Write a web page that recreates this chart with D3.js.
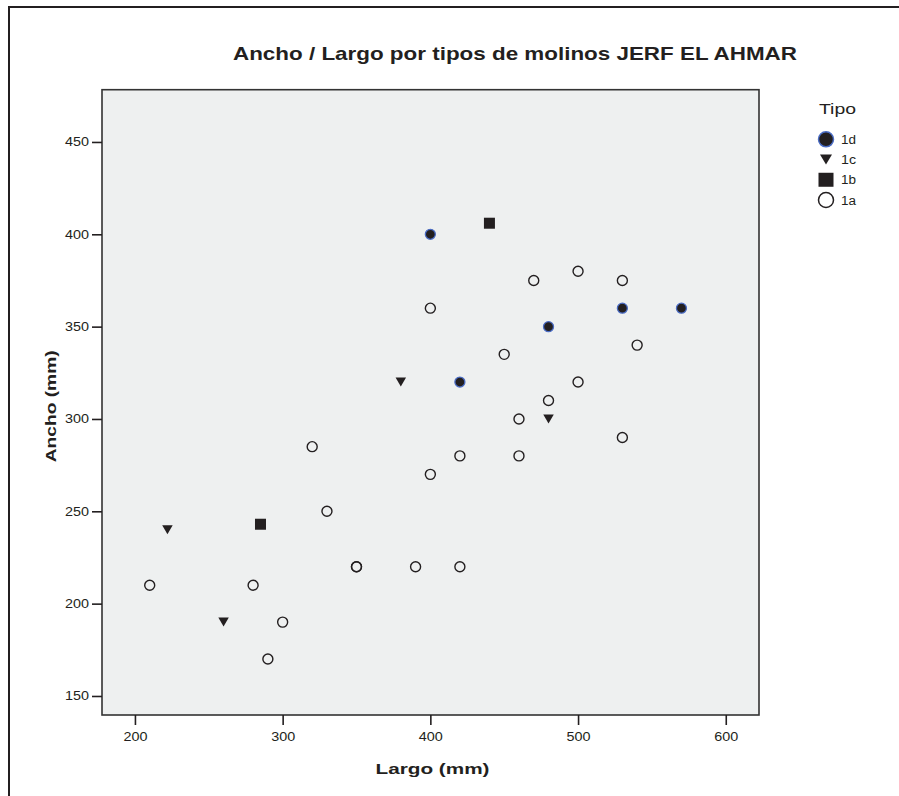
<!DOCTYPE html>
<html>
<head>
<meta charset="utf-8">
<script src="https://cdn.jsdelivr.net/npm/d3@7"></script>
<style>
  body { margin: 0; background: #fff; }
  svg { display: block; }
  text { font-family: "Liberation Sans", Arial, sans-serif; fill: #231f20; }
</style>
</head>
<body>
<svg id="chart" width="899" height="796"></svg>
<script>
// Molinos de JERF EL AHMAR: largo y ancho (mm) por tipo
const tipos = ["1d", "1c", "1b", "1a"];

const largo1a = [210, 280, 300, 290, 320, 330, 350, 350, 390, 420, 400, 420, 460, 460, 480, 500, 530, 540, 450, 400, 470, 500, 530];
const ancho1a = [210, 210, 190, 170, 285, 250, 220, 220, 220, 220, 270, 280, 280, 300, 310, 320, 290, 340, 335, 360, 375, 380, 375];

const largo1b = [440, 285];
const ancho1b = [406, 243];

const largo1c = [222, 260, 380, 480];
const ancho1c = [240, 190, 320, 300];

const largo1d = [400, 420, 480, 530, 570];
const ancho1d = [400, 320, 350, 360, 360];

const xTicks = [200, 300, 400, 500, 600];
const yTicks = [150, 200, 250, 300, 350, 400, 450];

const titulo = "Ancho / Largo por tipos de molinos JERF EL AHMAR";
const tituloX = "Largo (mm)";
const tituloY = "Ancho (mm)";
const tituloLeyenda = "Tipo";

const svg = d3.select("#chart");
const ink = "#231f20";

// Plot frame
const plot = { left: 102, top: 89.7, right: 759, bottom: 715 };

const x = d3.scaleLinear().domain([177.7, 622.5]).range([plot.left, plot.right]);
const y = d3.scaleLinear().domain([139.7, 478.3]).range([plot.bottom, plot.top]);

// Outer frame (left and top edges are visible inside the window)
svg.append("path")
  .attr("d", "M9,796 L9,7 L899,7")
  .attr("fill", "none")
  .attr("stroke", ink)
  .attr("stroke-width", 2);

// Plot background and border
svg.append("rect")
  .attr("x", plot.left).attr("y", plot.top)
  .attr("width", plot.right - plot.left).attr("height", plot.bottom - plot.top)
  .attr("fill", "#eef0f0")
  .attr("stroke", "#333")
  .attr("stroke-width", 1.6);

// Title
svg.append("text")
  .attr("x", 233).attr("y", 60)
  .attr("font-size", 18.5)
  .attr("font-weight", "bold")
  .attr("textLength", 564)
  .attr("lengthAdjust", "spacingAndGlyphs")
  .text(titulo);

// X axis
const gx = svg.append("g")
  .attr("transform", `translate(0,${plot.bottom})`)
  .call(d3.axisBottom(x).tickValues(xTicks).tickSize(10).tickPadding(7).tickFormat(d3.format("d")));
gx.select(".domain").remove();
gx.selectAll(".tick line").attr("stroke", ink).attr("stroke-width", 1.6);
gx.selectAll(".tick text")
  .attr("font-size", 12.5)
  .attr("font-family", "Liberation Sans, Arial, sans-serif")
  .attr("fill", "#333")
  .attr("textLength", 24)
  .attr("lengthAdjust", "spacingAndGlyphs");

// Y axis
const gy = svg.append("g")
  .attr("transform", `translate(${plot.left},0)`)
  .call(d3.axisLeft(y).tickValues(yTicks).tickSize(10).tickPadding(3).tickFormat(d3.format("d")));
gy.select(".domain").remove();
gy.selectAll(".tick line").attr("stroke", ink).attr("stroke-width", 1.6);
gy.selectAll(".tick text")
  .attr("font-size", 12.5)
  .attr("font-family", "Liberation Sans, Arial, sans-serif")
  .attr("fill", "#333")
  .attr("textLength", 24)
  .attr("lengthAdjust", "spacingAndGlyphs");

// Axis titles
svg.append("text")
  .attr("x", (plot.left + plot.right) / 2 + 2).attr("y", 774)
  .attr("text-anchor", "middle")
  .attr("font-size", 15.5)
  .attr("font-weight", "bold")
  .attr("textLength", 114)
  .attr("lengthAdjust", "spacingAndGlyphs")
  .text(tituloX);

svg.append("text")
  .attr("transform", `translate(56,${(plot.top + plot.bottom) / 2 + 4}) rotate(-90)`)
  .attr("text-anchor", "middle")
  .attr("font-size", 15.5)
  .attr("font-weight", "bold")
  .attr("textLength", 112)
  .attr("lengthAdjust", "spacingAndGlyphs")
  .text(tituloY);

// Marker shapes
const tri = (cx, cy, w, h) => `M${cx - w / 2},${cy - h / 2} L${cx + w / 2},${cy - h / 2} L${cx},${cy + h / 2} Z`;

const zip = (xs, ys) => xs.map((v, i) => ({ largo: v, ancho: ys[i] }));

const marks = svg.append("g");

// 1a: open circles
marks.selectAll("circle.t1a").data(zip(largo1a, ancho1a)).join("circle")
  .attr("class", "t1a")
  .attr("cx", d => x(d.largo)).attr("cy", d => y(d.ancho))
  .attr("r", 5)
  .attr("fill", "none")
  .attr("stroke", ink)
  .attr("stroke-width", 1.4);

// 1b: filled squares
marks.selectAll("rect.t1b").data(zip(largo1b, ancho1b)).join("rect")
  .attr("class", "t1b")
  .attr("x", d => x(d.largo) - 5.5).attr("y", d => y(d.ancho) - 5.5)
  .attr("width", 11).attr("height", 11)
  .attr("fill", ink);

// 1c: downward triangles
marks.selectAll("path.t1c").data(zip(largo1c, ancho1c)).join("path")
  .attr("class", "t1c")
  .attr("d", d => tri(x(d.largo), y(d.ancho), 10.5, 9))
  .attr("fill", ink);

// 1d: filled circles with blue rim
marks.selectAll("circle.t1d").data(zip(largo1d, ancho1d)).join("circle")
  .attr("class", "t1d")
  .attr("cx", d => x(d.largo)).attr("cy", d => y(d.ancho))
  .attr("r", 5)
  .attr("fill", ink)
  .attr("stroke", "#4a6cc4")
  .attr("stroke-width", 1.3);

// Legend
const lg = svg.append("g");
lg.append("text")
  .attr("x", 819).attr("y", 114)
  .attr("font-size", 15)
  .attr("textLength", 37)
  .attr("lengthAdjust", "spacingAndGlyphs")
  .text(tituloLeyenda);

const rowY = d3.scalePoint().domain(tipos).range([139.3, 200]);
const lx = 826;

tipos.forEach(t => {
  const cy = rowY(t);
  if (t === "1d") {
    lg.append("circle").attr("cx", lx).attr("cy", cy).attr("r", 7.5)
      .attr("fill", ink).attr("stroke", "#4a6cc4").attr("stroke-width", 1.5);
  } else if (t === "1c") {
    lg.append("path").attr("d", tri(lx, cy, 12, 10)).attr("fill", ink);
  } else if (t === "1b") {
    lg.append("rect").attr("x", lx - 7.5).attr("y", cy - 7).attr("width", 15).attr("height", 14).attr("fill", ink);
  } else {
    lg.append("circle").attr("cx", lx).attr("cy", cy).attr("r", 7.5)
      .attr("fill", "none").attr("stroke", ink).attr("stroke-width", 1.5);
  }
  lg.append("text")
    .attr("x", 841).attr("y", cy + 4.5)
    .attr("font-size", 12.5)
    .attr("textLength", 15)
    .attr("lengthAdjust", "spacingAndGlyphs")
    .text(t);
});
</script>
</body>
</html>
